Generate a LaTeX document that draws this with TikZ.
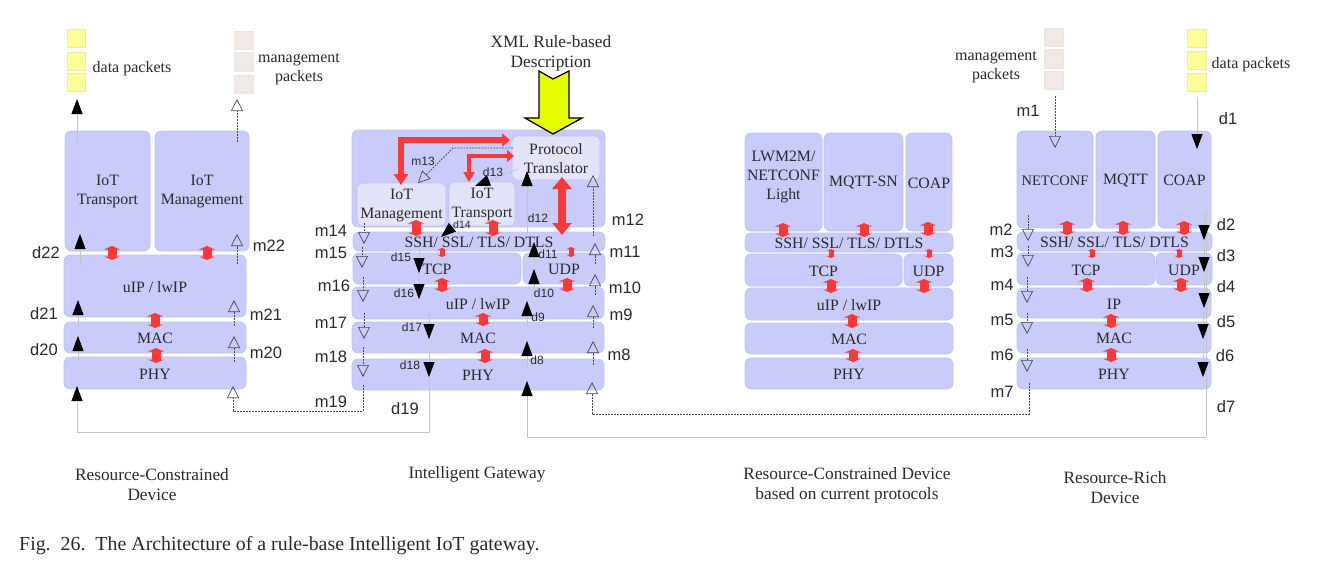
\documentclass[tikz,border=0pt]{standalone}
\usepackage{fontspec}
\setmainfont{Liberation Serif}
\newfontfamily\lblfont{Liberation Sans}
\usetikzlibrary{arrows.meta}
\definecolor{boxfill}{HTML}{C9CBFA}
\definecolor{boxline}{HTML}{BFC1F0}
\definecolor{lightfill}{HTML}{E3E4FA}
\definecolor{redarrow}{HTML}{F53A3A}
\definecolor{pktyellow}{HTML}{FFFF99}
\definecolor{pktyline}{HTML}{EBEBA8}
\definecolor{pktmgmt}{HTML}{F0E9E6}
\definecolor{pktmline}{HTML}{E8E6E4}
\definecolor{datagray}{HTML}{C4C4C4}
\definecolor{dotgray}{HTML}{4A4A4A}
\definecolor{xmlyellow}{HTML}{E6FF00}
\definecolor{inktext}{HTML}{2A2A2A}
\pgfdeclarelayer{bg}
\pgfdeclarelayer{mid}
\pgfsetlayers{bg,mid,main}
\tikzset{
  x=1pt,y=-1pt,
  boxtext/.style={inner sep=0pt,outer sep=0pt,align=center,font=\fontsize{15.8}{19}\selectfont,text=inktext},
  layerbox/.style={fill=boxfill,draw=boxline,line width=.6pt,rounded corners=6pt},
  lightbox/.style={fill=lightfill,draw=boxline,line width=.6pt,rounded corners=6pt},
  lbl/.style={inner sep=0pt,font=\lblfont\fontsize{16.5}{18}\selectfont,text=inktext},
  smalllbl/.style={inner sep=0pt,font=\lblfont\fontsize{12}{14}\selectfont,text=inktext},
  tinylbl/.style={inner sep=0pt,font=\lblfont\fontsize{10.5}{12}\selectfont,text=inktext},
  txt/.style={inner sep=0pt,align=center,font=\fontsize{16}{19.5}\selectfont,text=inktext},
  captxt/.style={inner sep=0pt,align=center,font=\fontsize{17.3}{20}\selectfont,text=inktext},
  dataline/.style={draw=datagray,line width=.8pt},
  dataarrow/.style={dataline,-{Triangle[length=15pt,width=11pt,color=black]}},
  mgmtline/.style={draw=dotgray,line width=.8pt,dash pattern=on 1.6pt off 1.4pt},
  mgmtarrow/.style={mgmtline,-{Triangle[open,length=12pt,width=12pt,color=dotgray,line width=.7pt,sep=0pt]}},
  redbig/.style={draw=redarrow,line width=9pt,{Triangle[length=3.5pt,width=16pt]}-{Triangle[length=3.5pt,width=16pt]}},
  redsmall/.style={draw=redarrow,line width=5pt,{Triangle[length=2.2pt,width=9pt]}-{Triangle[length=2.2pt,width=9pt]}},
  redfat/.style={draw=redarrow,line width=7.5pt,{Triangle[length=12pt,width=19pt]}-{Triangle[length=12pt,width=19pt]}},
  redpath/.style={draw=redarrow,line width=5.5pt,line join=miter,-{Triangle[length=8pt,width=13pt]}},
  yellowpkt/.style={fill=pktyellow,draw=pktyline,line width=.6pt},
  mgmtpkt/.style={fill=pktmgmt,draw=pktmline,line width=.6pt},
}
% box: name, x0, y0, x1, y1, extra options, text
\newcommand{\bx}[7][layerbox]{%
  \node[boxtext,minimum width=#4-#2,minimum height=#5-#3,#6] (#7) at ({(#2+#4)/2},{(#3+#5)/2+1}) {\bxtext};%
  \begin{pgfonlayer}{bg}\draw[#1] ([yshift=1pt]#7.north west) rectangle ([yshift=1pt]#7.south east);\end{pgfonlayer}}
\newcommand{\bxtext}{}
\newcommand{\BX}[8][layerbox]{\renewcommand{\bxtext}{#8}\bx[#1]{#2}{#3}{#4}{#5}{#6}{#7}}
% connector: style, name, x1, y1, x2, y2
\newcommand{\cn}[6]{\coordinate (#2a) at (#3,#4);\coordinate (#2b) at (#5,#6);%
  \begin{pgfonlayer}{mid}\draw[#1] (#2a) -- (#2b);\end{pgfonlayer}}
% packet
\newcommand{\pk}[6]{\node[#1,inner sep=0pt,minimum width=#5-#3,minimum height=#6-#4] (#2) at ({(#3+#5)/2},{(#4+#6)/2}) {};}
\begin{document}
\begin{tikzpicture}
\useasboundingbox (0,0) rectangle (1340,574);
\begin{pgfonlayer}{bg}\fill[white] (0,0) rectangle (1340,574);\end{pgfonlayer}

%% ---- Resource-Constrained Device ----
\BX{65}{131}{150}{251}{}{aT}{IoT\\Transport}
\BX{155}{131}{249}{251}{}{aM}{IoT\\Management}
\BX{64}{255}{246}{317}{}{aU}{uIP / lwIP}
\BX{64}{322}{246}{353}{}{aC}{MAC}
\BX{64}{357}{246}{389}{}{aP}{PHY}
\pk{yellowpkt}{ay1}{67}{29}{85}{47}
\pk{yellowpkt}{ay2}{67}{52}{85}{70}
\pk{yellowpkt}{ay3}{67}{73}{85}{91}
\pk{mgmtpkt}{am1}{234}{31}{253}{49}
\pk{mgmtpkt}{am2}{234}{52}{253}{71}
\pk{mgmtpkt}{am3}{234}{75}{253}{93}
\node[txt] (adp) at (132,69) {data packets};
\node[txt] (amp) at (299,69) {management\\packets};
\cn{redbig}{ar1}{112}{246}{112}{260}
\cn{redbig}{ar2}{207}{246}{207}{260}
\cn{redbig}{ar3}{155}{313}{155}{328}
\cn{redbig}{ar4}{156}{348}{156}{363}
\cn{dataarrow}{ad1}{77}{148}{77}{99}
\cn{dataarrow}{ad2}{80}{264}{80}{234}
\cn{dataarrow}{ad3}{78}{326}{78}{300}
\cn{dataarrow}{ad4}{78}{362}{78}{336}
\cn{mgmtarrow}{ag1}{237}{142}{237}{99}
\cn{mgmtarrow}{ag2}{237}{264}{237}{234}
\cn{mgmtarrow}{ag3}{234}{326}{234}{300}
\cn{mgmtarrow}{ag4}{234}{362}{234}{336}
\node[lbl] (d22) at (46,253) {d22};
\node[lbl] (d21) at (44,314) {d21};
\node[lbl] (d20) at (44,350) {d20};
\node[lbl] (m22) at (269,246) {m22};
\node[lbl] (m21) at (266,315) {m21};
\node[lbl] (m20) at (266,353) {m20};

%% ---- Intelligent Gateway ----
\BX{352}{130}{605}{227}{}{gO}{}
\BX[lightbox]{512}{136}{600}{180}{}{gPT}{Protocol\\Translator}
\BX[lightbox]{357}{183}{446}{226}{}{gM}{IoT\\Management}
\BX[lightbox]{449}{182}{515}{226}{}{gT}{IoT\\Transport}
\BX{353}{232}{605}{251}{}{gS}{SSH/ SSL/ TLS/ DTLS}
\BX{353}{253}{521}{284}{}{gTCP}{TCP}
\BX{523}{253}{605}{284}{}{gUDP}{UDP}
\BX{352}{287}{604}{319}{}{gU}{uIP / lwIP}
\BX{352}{322}{604}{353}{}{gC}{MAC}
\BX{352}{359}{604}{390}{}{gP}{PHY}
\cn{redbig}{gr1}{416}{220}{416}{236}
\cn{redbig}{gr2}{493}{220}{493}{236}
\cn{redsmall}{gr3}{442}{248}{442}{257}
\cn{redsmall}{gr4}{571}{247}{571}{257}
\cn{redbig}{gr5}{442}{278}{442}{292}
\cn{redbig}{gr6}{567}{278}{567}{292}
\cn{redbig}{gr7}{483}{313}{483}{326}
\cn{redbig}{gr8}{485}{349}{485}{363}
\cn{redfat}{gr9}{562}{177}{562}{235}
\coordinate (gfa) at (401,185);\coordinate (gfb) at (401,140);\coordinate (gfc) at (510,140);
\coordinate (gfd) at (469,182);\coordinate (gfe) at (469,156);\coordinate (gff) at (514,156);
\begin{pgfonlayer}{mid}
\draw[redpath,{Triangle[length=11pt,width=14pt]}-{Triangle[length=8pt,width=13pt]}] (gfa) -- (gfb) -- (gfc);
\draw[redpath,line width=4.5pt,{Triangle[length=10pt,width=11pt]}-{Triangle[length=7pt,width=12pt]}] (gfd) -- (gfe) -- (gff);
\end{pgfonlayer}
% m13
\coordinate (gm13a) at (513,148);\coordinate (gm13b) at (453,148);\coordinate (gm13c) at (418,183);
\begin{pgfonlayer}{mid}
\draw[mgmtarrow] (gm13a) -- (gm13b) -- (gm13c);
\end{pgfonlayer}
% data up
\cn{dataarrow}{gd1}{518}{169}{475}{186}
\cn{dataarrow}{gd2}{462}{219}{441}{237}
\cn{dataarrow}{gd3}{527}{233}{527}{171}
\cn{dataarrow}{gd4}{534}{266}{534}{242}
\cn{dataarrow}{gd5}{534}{297}{534}{269}
\cn{dataarrow}{gd6}{527}{327}{527}{301}
\cn{dataarrow}{gd7}{527}{367}{527}{341}
% data down
\cn{dataarrow}{gd8}{419}{248}{419}{273}
\cn{dataarrow}{gd9}{419}{273}{419}{299}
\cn{dataarrow}{gd10}{429}{313}{429}{339}
\cn{dataarrow}{gd11}{429}{348}{429}{377}
% mgmt up
\cn{mgmtarrow}{gg1}{593}{236}{593}{175}
\cn{mgmtarrow}{gg2}{595}{264}{595}{243}
\cn{mgmtarrow}{gg3}{595}{295}{595}{274}
\cn{mgmtarrow}{gg4}{593}{328}{593}{305}
\cn{mgmtarrow}{gg5}{593}{365}{593}{341}
% mgmt down
\cn{mgmtarrow}{gg6}{364}{223}{364}{244}
\cn{mgmtarrow}{gg7}{362}{247}{362}{268}
\cn{mgmtarrow}{gg8}{363}{277}{363}{302}
\cn{mgmtarrow}{gg9}{364}{313}{364}{339}
\cn{mgmtarrow}{gg10}{363}{347}{363}{377}
% labels
\node[lbl] (m14) at (331,231) {m14};
\node[lbl] (m15) at (331,253) {m15};
\node[lbl] (m16) at (334,286) {m16};
\node[lbl] (m17) at (331,323) {m17};
\node[lbl] (m18) at (331,357) {m18};
\node[lbl] (m19) at (331,402) {m19};
\node[lbl] (d19) at (405,409) {d19};
\node[lbl] (m12) at (628,220) {m12};
\node[lbl] (m11) at (625,252) {m11};
\node[lbl] (m10) at (625,288) {m10};
\node[lbl] (m9) at (621,315) {m9};
\node[lbl] (m8) at (619,355) {m8};
\node[smalllbl] (m13) at (423,161) {m13};
\node[smalllbl] (d13) at (493,172) {d13};
\node[tinylbl] (d14) at (462,225) {d14};
\node[smalllbl] (d15) at (401,257) {d15};
\node[smalllbl] (d16) at (404,293) {d16};
\node[smalllbl] (d17) at (412,327) {d17};
\node[smalllbl] (d18) at (410,365) {d18};
\node[smalllbl] (d12) at (538,218) {d12};
\node[smalllbl] (d11) at (548,254) {d11};
\node[smalllbl] (d10) at (544,293) {d10};
\node[smalllbl] (d9) at (538,317) {d9};
\node[smalllbl] (d8) at (537,360) {d8};
% XML arrow
\node[captxt] (xml) at (551,53) {XML Rule-based\\Description};
\coordinate (x1) at (539,71);\coordinate (x2) at (553,79);\coordinate (x3) at (569,71);
\coordinate (x4) at (569,118);\coordinate (x5) at (582,118);\coordinate (x6) at (553,134);
\coordinate (x7) at (525,118);\coordinate (x8) at (539,118);
\draw[fill=xmlyellow,draw=black,line width=1.3pt,line join=miter] (x1)--(x2)--(x3)--(x4)--(x5)--(x6)--(x7)--(x8)--cycle;

%% ---- Resource-Constrained Device based on current protocols ----
\BX{745}{133}{822}{231}{text depth=16pt}{cL}{LWM2M/\\NETCONF\\Light}
\BX{824}{133}{903}{231}{}{cM}{MQTT-SN}
\BX{906}{133}{952}{231}{}{cC}{COAP}
\BX{745}{233}{953}{252}{}{cS}{SSH/ SSL/ TLS/ DTLS}
\BX{745}{254}{902}{286}{}{cTCP}{TCP}
\BX{904}{254}{953}{286}{}{cUDP}{UDP}
\BX{745}{288}{953}{320}{}{cU}{uIP / lwIP}
\BX{745}{323}{953}{354}{}{cA}{MAC}
\BX{745}{358}{953}{389}{}{cP}{PHY}
\cn{redbig}{cr1}{783}{223}{783}{237}
\cn{redbig}{cr2}{864}{223}{864}{237}
\cn{redbig}{cr3}{928}{222}{928}{236}
\cn{redsmall}{cr4}{831}{249}{831}{258}
\cn{redsmall}{cr5}{929}{249}{929}{258}
\cn{redbig}{cr6}{831}{279}{831}{293}
\cn{redbig}{cr7}{924}{279}{924}{293}
\cn{redbig}{cr8}{852}{314}{852}{328}
\cn{redbig}{cr9}{853}{349}{853}{362}

%% ---- Resource-Rich Device ----
\BX{1017}{131}{1093}{228}{font=\fontsize{14.5}{17}\selectfont}{rN}{NETCONF}
\BX{1096}{131}{1155}{228}{}{rM}{MQTT}
\BX{1158}{131}{1211}{228}{}{rC}{COAP}
\BX{1017}{232}{1212}{251}{}{rS}{SSH/ SSL/ TLS/ DTLS}
\BX{1017}{253}{1155}{285}{}{rTCP}{TCP}
\BX{1156}{253}{1212}{285}{}{rUDP}{UDP}
\BX{1017}{288}{1211}{318}{}{rI}{IP}
\BX{1017}{322}{1211}{353}{}{rA}{MAC}
\BX{1017}{358}{1211}{389}{}{rP}{PHY}
\pk{mgmtpkt}{rm1}{1044}{28}{1063}{46}
\pk{mgmtpkt}{rm2}{1044}{49}{1063}{68}
\pk{mgmtpkt}{rm3}{1044}{71}{1063}{89}
\pk{yellowpkt}{ry1}{1187}{29}{1206}{47}
\pk{yellowpkt}{ry2}{1187}{51}{1206}{69}
\pk{yellowpkt}{ry3}{1187}{73}{1206}{91}
\node[txt] (rdp) at (1251,64.5) {data packets};
\node[txt] (rmp) at (996,67) {management\\packets};
\cn{redbig}{rr1}{1067}{221}{1067}{235}
\cn{redbig}{rr2}{1123}{221}{1123}{235}
\cn{redbig}{rr3}{1184}{221}{1184}{235}
\cn{redsmall}{rr4}{1092}{249}{1092}{258}
\cn{redsmall}{rr5}{1179}{249}{1179}{258}
\cn{redbig}{rr6}{1087}{278}{1087}{292}
\cn{redbig}{rr7}{1181}{278}{1181}{292}
\cn{redbig}{rr8}{1111}{314}{1111}{328}
\cn{redbig}{rr9}{1111}{348}{1111}{362}
% data down
\cn{dataline}{rdl}{1206}{211}{1206}{437}
\cn{dataarrow}{rd1}{1197}{97}{1197}{149}
\cn{dataarrow}{rd2}{1204}{211}{1204}{240}
\cn{dataarrow}{rd3}{1204}{245}{1204}{272}
\cn{dataarrow}{rd4}{1204}{278}{1204}{308}
\cn{dataarrow}{rd5}{1203}{312}{1203}{339}
\cn{dataarrow}{rd6}{1203}{347}{1203}{377}
% mgmt down
\cn{mgmtarrow}{rg1}{1055}{96}{1055}{148}
\cn{mgmtarrow}{rg2}{1028}{215}{1028}{241}
\cn{mgmtarrow}{rg3}{1028}{246}{1028}{267}
\cn{mgmtarrow}{rg4}{1027}{277}{1027}{303}
\cn{mgmtarrow}{rg5}{1027}{313}{1027}{334}
\cn{mgmtarrow}{rg6}{1027}{349}{1027}{372}
\node[lbl] (m1) at (1028,111) {m1};
\node[lbl] (m2) at (1001,230) {m2};
\node[lbl] (m3) at (1002,252) {m3};
\node[lbl] (m4) at (1002,285) {m4};
\node[lbl] (m5) at (1002,320) {m5};
\node[lbl] (m6) at (1002,355) {m6};
\node[lbl] (m7) at (1002,392) {m7};
\node[lbl] (d1) at (1228,119) {d1};
\node[lbl] (d2) at (1226,225) {d2};
\node[lbl] (d3) at (1226,256) {d3};
\node[lbl] (d4) at (1226,287) {d4};
\node[lbl] (d5) at (1226,322) {d5};
\node[lbl] (d6) at (1225,356) {d6};
\node[lbl] (d7) at (1226,407) {d7};

%% ---- Long links between devices ----
% gateway data out (d19) to constrained device
\coordinate (l1a) at (429,377);\coordinate (l1b) at (429,432);\coordinate (l1c) at (77,432);\coordinate (l1d) at (77,386);
\begin{pgfonlayer}{mid}\draw[dataarrow] (l1a) -- (l1b) -- (l1c) -- (l1d);\end{pgfonlayer}
% gateway mgmt out (m19) to constrained device
\coordinate (l2a) at (363,385);\coordinate (l2b) at (363,411);\coordinate (l2c) at (233,411);\coordinate (l2d) at (233,386);
\begin{pgfonlayer}{mid}\draw[mgmtarrow] (l2a) -- (l2b) -- (l2c) -- (l2d);\end{pgfonlayer}
% rich device data (d7) to gateway
\coordinate (l3a) at (1206,437);\coordinate (l3b) at (527,437);\coordinate (l3c) at (527,381);
\begin{pgfonlayer}{mid}\draw[dataarrow] (l3a) -- (l3b) -- (l3c);\end{pgfonlayer}
% rich device mgmt (m7) to gateway
\coordinate (l4a) at (1029,383);\coordinate (l4b) at (1029,414);\coordinate (l4c) at (592,414);\coordinate (l4d) at (592,382);
\begin{pgfonlayer}{mid}\draw[mgmtarrow] (l4a) -- (l4b) -- (l4c) -- (l4d);\end{pgfonlayer}

%% ---- Captions ----
\node[captxt] (c1) at (152,485) {Resource-Constrained\\Device};
\node[captxt] (c2) at (477,474.5) {Intelligent Gateway};
\node[captxt] (c3) at (847,485) {Resource-Constrained Device\\based on current protocols};
\node[captxt] (c4) at (1115,488) {Resource-Rich\\Device};
\node[inner sep=0pt,anchor=west,font=\fontsize{19.9}{22}\selectfont,text=inktext] (cap) at (19,546) {Fig.~~26.~~The Architecture of a rule-base Intelligent IoT gateway.};
\end{tikzpicture}
\end{document}
